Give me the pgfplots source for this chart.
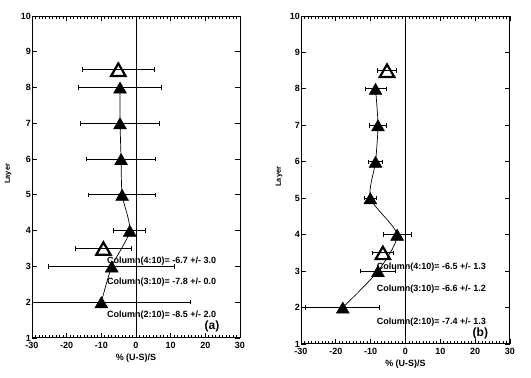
\documentclass[border=0pt]{standalone}
\usepackage{fontspec}
\setmainfont{Liberation Sans}
\usepackage{pgfplots}
\pgfplotsset{compat=1.18}
\pgfplotsset{
  panel/.style={
    scale only axis, xmin=-30, xmax=30, ymin=1, ymax=10,
    xtick={-30,-20,...,30}, minor x tick num=9, ytick={1,...,10},
    tick align=inside, major tick length=5pt, minor tick length=3pt,
    axis line style={line width=1pt},
    every tick/.style={black, line width=0.8pt},
    ticklabel style={font=\fontsize{9}{9}\selectfont\bfseries},
    yticklabel style={inner sep=1pt},
    xticklabel style={yshift=-1pt},
    /pgf/number format/assume math mode=true,
    xlabel={\% (U-S)/S},
    xlabel style={font=\fontsize{9}{9}\selectfont\bfseries, at={(axis description cs:0.5,0)}, anchor=center, yshift=-20pt},
    ylabel={Layer},
    ylabel style={font=\fontsize{7.5}{7.5}\selectfont\bfseries, anchor=center, rotate=0},
    clip=true,
  },
  filled/.style={only marks, mark=triangle*, mark size=7.5pt, black,
    mark options={yshift=-1.9pt, fill=black},
    error bars/.cd, x dir=both, x explicit, error mark=|,
    error bar style={line width=0.9pt, black},
    error mark options={mark size=2.2pt, line width=0.8pt, black}},
  opentri/.style={only marks, mark=triangle, mark size=8.3pt, black,
    mark options={yshift=-2.1pt, line width=2.2pt, fill=white},
    error bars/.cd, x dir=both, x explicit, error mark=|,
    error bar style={line width=0.9pt, black},
    error mark options={mark size=2.2pt, line width=0.8pt, black}},
}
\begin{document}
\begin{tikzpicture}[x=1pt,y=1pt]
\path[use as bounding box] (0,0) rectangle (531,378);
% ---------- panel (a)
\begin{axis}[panel, at={(32pt,40pt)}, anchor=south west, width=208pt, height=322pt,
  ylabel style={at={(axis description cs:-0.115,0.51)}}]
\addplot[black, line width=0.9pt] coordinates {(0,1) (0,10)};
\addplot[black, line width=0.7pt, smooth, tension=0.4] coordinates {
(-10.0,2) (-7.0,3) (-1.8,4) (-4.0,5) (-4.3,6) (-4.6,7) (-4.6,8)};
\addplot[filled] table[x=x, y=y, x error=ex] {
y x ex
2 -10.0 25.7
3 -7.0 18.2
4 -1.8 4.6
5 -4.0 9.6
6 -4.3 10.0
7 -4.6 11.4
8 -4.6 12.0
};
\addplot[opentri] table[x=x, y=y, x error=ex] {
y x ex
3.5 -9.4 8.0
8.5 -5.1 10.4
};
\node[anchor=west, font=\fontsize{9}{9}\selectfont\bfseries, inner sep=0pt] at (axis cs:-8.4,3.16) {Column(4:10)= -6.7 +/- 3.0};
\node[anchor=west, font=\fontsize{9}{9}\selectfont\bfseries, inner sep=0pt] at (axis cs:-8.4,2.56) {Column(3:10)= -7.8 +/- 0.0};
\node[anchor=west, font=\fontsize{9}{9}\selectfont\bfseries, inner sep=0pt] at (axis cs:-8.4,1.63) {Column(2:10)= -8.5 +/- 2.0};
\node[font=\fontsize{12}{12}\selectfont\bfseries, inner sep=0pt] at (axis cs:21.9,1.32) {(a)};
\end{axis}
% ---------- panel (b)
\begin{axis}[panel, at={(301pt,34pt)}, anchor=south west, width=209pt, height=328pt,
  ylabel style={at={(axis description cs:-0.105,0.51)}}]
\addplot[black, line width=0.9pt] coordinates {(0,1) (0,10)};
\addplot[black, line width=0.7pt, smooth, tension=0.4] coordinates {
(-18.0,2) (-7.9,3) (-2.4,4) (-10.1,5) (-8.6,6) (-7.9,7) (-8.6,8)};
\addplot[filled] table[x=x, y=y, x error=ex] {
y x ex
2 -18.0 10.6
3 -7.9 5.0
4 -2.4 4.0
5 -10.1 1.7
6 -8.6 2.0
7 -7.9 2.5
8 -8.6 3.0
};
\addplot[opentri] table[x=x, y=y, x error=ex] {
y x ex
3.5 -6.5 3.1
8.5 -5.3 2.8
};
\node[anchor=west, font=\fontsize{9}{9}\selectfont\bfseries, inner sep=0pt] at (axis cs:-8.3,3.12) {Column(4:10)= -6.5 +/- 1.3};
\node[anchor=west, font=\fontsize{9}{9}\selectfont\bfseries, inner sep=0pt] at (axis cs:-8.3,2.50) {Column(3:10)= -6.6 +/- 1.2};
\node[anchor=west, font=\fontsize{9}{9}\selectfont\bfseries, inner sep=0pt] at (axis cs:-8.3,1.59) {Column(2:10)= -7.4 +/- 1.3};
\node[font=\fontsize{12}{12}\selectfont\bfseries, inner sep=0pt] at (axis cs:21.5,1.29) {(b)};
\end{axis}
\end{tikzpicture}
\end{document}
